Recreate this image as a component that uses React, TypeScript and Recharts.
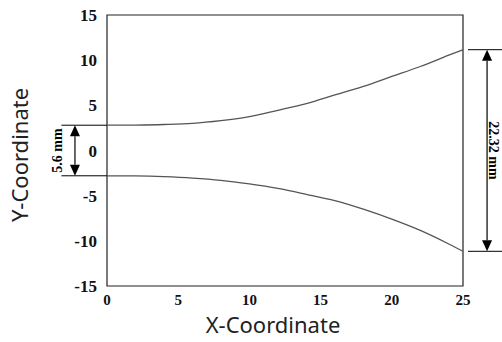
import { LineChart, Line, XAxis, YAxis, ReferenceArea, ReferenceLine } from 'recharts';

const xs = [0, 2, 4, 6, 8, 10, 12, 14, 16, 18, 20, 22, 24, 25];
const upper = [2.8, 2.82, 2.88, 3.0, 3.3, 3.74, 4.45, 5.2, 6.15, 7.1, 8.2, 9.3, 10.55, 11.16];
const lower = [-2.8, -2.82, -2.9, -3.05, -3.3, -3.7, -4.2, -4.85, -5.55, -6.5, -7.6, -8.85, -10.35, -11.16];
const xTicks = [0, 5, 10, 15, 20, 25];
const yTicks = [-15, -10, -5, 0, 5, 10, 15];

// dimension annotations (data units)
const inletHalf = 2.8;
const outletHalf = 11.16;
const leftExt = [-3.2, 0];
const leftArrowX = -2.25;
const rightExt = [25.35, 27.8];
const rightArrowX = 26.69;

const data = xs.map((x, i) => ({ x, upper: upper[i], lower: lower[i] }));

const serif = '"Liberation Serif", "Times New Roman", serif';
const yTickStyle = { fill: '#111', fontSize: 17, fontWeight: 700, fontFamily: serif };
const xTickStyle = { fill: '#111', fontSize: 15, fontWeight: 700, fontFamily: serif };
const dimFont = { fontSize: 14, fontWeight: 700, fontFamily: serif };
const titleFont = { fontSize: 22, fontFamily: '"Noto Sans", "Open Sans", sans-serif', fill: '#222' };

function DimArrow(props: any) {
  const { x1, y1, y2, text, tx, angle } = props;
  const top = Math.min(y1, y2);
  const bot = Math.max(y1, y2);
  const x = x1;
  const hl = 11;
  const hw = 5;
  const mid = (top + bot) / 2;
  return (
    <g>
      <line x1={x} y1={top + hl} x2={x} y2={bot - hl} stroke="#000" strokeWidth={1.2} />
      <polygon points={`${x},${top} ${x - hw},${top + hl} ${x + hw},${top + hl}`} fill="#000" />
      <polygon points={`${x},${bot} ${x - hw},${bot - hl} ${x + hw},${bot - hl}`} fill="#000" />
      <text
        x={x + tx}
        y={mid}
        textAnchor="middle"
        dominantBaseline="central"
        transform={`rotate(${angle}, ${x + tx}, ${mid})`}
        {...dimFont}
        fill="#000"
      >
        {text}
      </text>
    </g>
  );
}

export default function App() {
  return (
    <div style={{ position: 'absolute', left: 0, top: 0, background: '#fff' }}>
      <LineChart width={502} height={342} data={data} margin={{ top: 15, right: 39, bottom: 0, left: 0 }}>
        <XAxis
          dataKey="x"
          type="number"
          domain={[0, 25]}
          ticks={xTicks}
          tickLine={false}
          axisLine={false}
          height={56}
          tick={xTickStyle}
          label={{
            content: (p: any) => {
              const vb = p.viewBox;
              return (
                <text x={vb.x + vb.width / 2 - 12} y={324} textAnchor="middle" dominantBaseline="central" {...titleFont}>
                  X-Coordinate
                </text>
              );
            },
          }}
        />
        <YAxis
          type="number"
          domain={[-15, 15]}
          ticks={yTicks}
          tickLine={false}
          axisLine={false}
          width={107}
          tickMargin={4}
          tick={yTickStyle}
          label={{
            content: () => (
              <text x={19} y={155} textAnchor="middle" dominantBaseline="central" transform="rotate(-90, 19, 155)" {...titleFont}>
                Y-Coordinate
              </text>
            ),
          }}
        />
        <ReferenceArea x1={0} x2={25} y1={-15} y2={15} fill="none" stroke="#222" strokeWidth={1.2} ifOverflow="visible" />
        <Line dataKey="upper" type="monotone" stroke="#555" strokeWidth={1.3} dot={false} isAnimationActive={false} />
        <Line dataKey="lower" type="monotone" stroke="#555" strokeWidth={1.3} dot={false} isAnimationActive={false} />

        <ReferenceLine segment={[{ x: leftExt[0], y: inletHalf }, { x: leftExt[1], y: inletHalf }]} stroke="#000" strokeWidth={1} ifOverflow="visible" />
        <ReferenceLine segment={[{ x: leftExt[0], y: -inletHalf }, { x: leftExt[1], y: -inletHalf }]} stroke="#000" strokeWidth={1} ifOverflow="visible" />
        <ReferenceLine
          segment={[{ x: leftArrowX, y: inletHalf }, { x: leftArrowX, y: -inletHalf }]}
          ifOverflow="visible"
          shape={(p: any) => <DimArrow {...p} text="5.6 mm" tx={-17} angle={-90} />}
        />
        <ReferenceLine segment={[{ x: rightExt[0], y: outletHalf }, { x: rightExt[1], y: outletHalf }]} stroke="#000" strokeWidth={1} ifOverflow="visible" />
        <ReferenceLine segment={[{ x: rightExt[0], y: -outletHalf }, { x: rightExt[1], y: -outletHalf }]} stroke="#000" strokeWidth={1} ifOverflow="visible" />
        <ReferenceLine
          segment={[{ x: rightArrowX, y: outletHalf }, { x: rightArrowX, y: -outletHalf }]}
          ifOverflow="visible"
          shape={(p: any) => <DimArrow {...p} text="22.32 mm" tx={6} angle={90} />}
        />
      </LineChart>
    </div>
  );
}
